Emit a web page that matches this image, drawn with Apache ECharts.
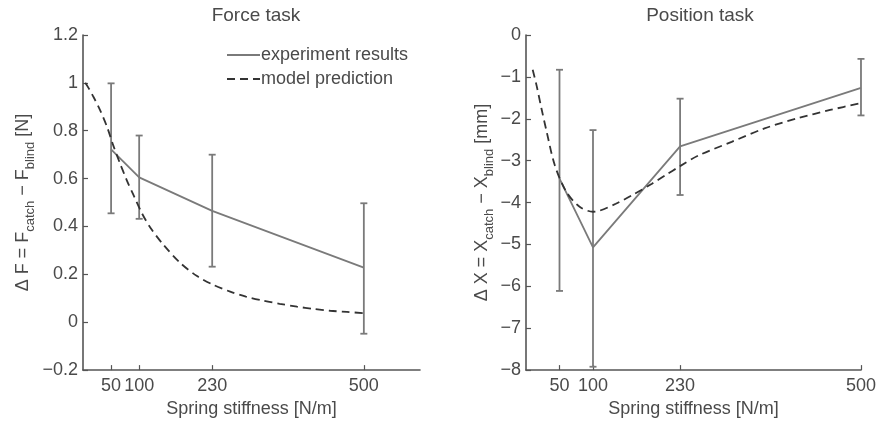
<!DOCTYPE html>
<html>
<head>
<meta charset="utf-8">
<script src="https://cdn.jsdelivr.net/npm/echarts@6/dist/echarts.min.js"></script>
<style>
html,body{margin:0;padding:0;background:#fff;}
#chart{width:879px;height:423px;}
</style>
</head>
<body>
<div id="chart"></div>
<script>
// ---- Data ----
const stiffnessTicks = [50, 100, 230, 500];

// Force task
const forceK = [50, 100, 230, 500];
const forceMean = [0.722, 0.605, 0.465, 0.228];
const forceUpper = [0.998, 0.78, 0.70, 0.497];
const forceLower = [0.455, 0.432, 0.232, -0.048];
const forceModelK = [4, 10, 19, 31, 43, 54, 66, 78, 90, 105, 120, 143, 173, 203, 232, 262, 290, 321, 350, 381, 410, 440, 470, 500];
const forceModelV = [1.0, 0.978, 0.94, 0.883, 0.815, 0.738, 0.663, 0.593, 0.531, 0.455, 0.395, 0.324, 0.248, 0.193, 0.156, 0.128, 0.107, 0.09, 0.077, 0.065, 0.056, 0.048, 0.043, 0.038];

// Position task
const posK = [50, 100, 230, 500];
const posMean = [-3.43, -5.07, -2.66, -1.26];
const posUpper = [-0.83, -2.27, -1.52, -0.57];
const posLower = [-6.11, -7.92, -3.82, -1.92];
const posModelK = [10, 16, 23, 31, 43, 60, 80, 100, 109, 134, 159, 188, 208, 230, 257, 307, 356, 405, 454, 499];
const posModelV = [-0.83, -1.22, -1.75, -2.32, -3.11, -3.74, -4.10, -4.22, -4.20, -4.03, -3.82, -3.55, -3.35, -3.13, -2.88, -2.55, -2.23, -1.99, -1.79, -1.63];

// ---- Styling ----
const FONT = 'Liberation Sans, Arial, sans-serif';
const TXT = '#4a4a4a';
const AXIS = '#555555';
const EXP = '#7a7a7a';
const MODEL = '#333333';
const FS = 18;

const zip = (a, b) => a.map((v, i) => [v, b[i]]);
const errData = (k, lo, hi) => k.map((v, i) => [v, lo[i], hi[i]]);
const fmt = v => String(+v.toFixed(1)).replace('-', '\u2212');

function errorBarSeries(idx, data) {
  return {
    type: 'custom', xAxisIndex: idx, yAxisIndex: idx, data: data, z: 3,
    renderItem: function (params, api) {
      const lo = api.coord([api.value(0), api.value(1)]);
      const hi = api.coord([api.value(0), api.value(2)]);
      const w = 3.5;
      const st = { stroke: EXP, lineWidth: 1.8 };
      return {
        type: 'group', children: [
          { type: 'line', shape: { x1: lo[0], y1: lo[1], x2: hi[0], y2: hi[1] }, style: st },
          { type: 'line', shape: { x1: lo[0] - w, y1: lo[1], x2: lo[0] + w, y2: lo[1] }, style: st },
          { type: 'line', shape: { x1: hi[0] - w, y1: hi[1], x2: hi[0] + w, y2: hi[1] }, style: st }
        ]
      };
    }
  };
}

function yName(letter, unit) {
  return '{m|\u0394 ' + letter + ' = ' + letter + '}{s|catch}{m| \u2212 ' + letter + '}{s|blind}{m| [' + unit + ']}';
}
const nameRich = {
  m: { fontSize: FS, fontFamily: FONT, color: TXT, lineHeight: 28, verticalAlign: 'middle' },
  s: { fontSize: 13, fontFamily: FONT, color: TXT, lineHeight: 15, verticalAlign: 'bottom' }
};

function xAxisCfg(idx, max) {
  return {
    type: 'value', gridIndex: idx, min: 0, max: max,
    axisLine: { show: true, onZero: false, lineStyle: { color: AXIS, width: 1.6 } },
    axisTick: { show: true, inside: true, length: 5, customValues: stiffnessTicks, lineStyle: { color: AXIS, width: 1.2 } },
    axisLabel: { customValues: stiffnessTicks, color: TXT, fontSize: FS, fontFamily: FONT, margin: 7, hideOverlap: false },
    splitLine: { show: false },
    name: 'Spring stiffness [N/m]', nameLocation: 'middle', nameGap: 21,
    nameTextStyle: { color: TXT, fontSize: FS, fontFamily: FONT }
  };
}
function yAxisCfg(idx, min, max, interval, name, gap) {
  return {
    type: 'value', gridIndex: idx, min: min, max: max, interval: interval,
    axisLine: { show: true, onZero: false, lineStyle: { color: AXIS, width: 1.6 } },
    axisTick: { show: true, inside: true, length: 5, lineStyle: { color: AXIS, width: 1.2 } },
    axisLabel: { color: TXT, fontSize: FS, fontFamily: FONT, margin: 5, formatter: fmt },
    splitLine: { show: false },
    name: name, nameLocation: 'middle', nameGap: gap,
    nameTextStyle: { rich: nameRich }
  };
}

const chart = echarts.init(document.getElementById('chart'), null, { renderer: 'canvas' });
chart.setOption({
  backgroundColor: '#ffffff',
  animation: false,
  title: [
    { text: 'Force task', left: 251, top: 1, textAlign: 'center', textStyle: { color: TXT, fontSize: 19, fontWeight: 'normal', fontFamily: FONT } },
    { text: 'Position task', left: 695, top: 1, textAlign: 'center', textStyle: { color: TXT, fontSize: 19, fontWeight: 'normal', fontFamily: FONT } }
  ],
  legend: {
    orient: 'vertical', left: 221, top: 41, itemWidth: 33, itemHeight: 14, itemGap: 6,
    data: ['experiment results', 'model prediction'],
    itemStyle: { opacity: 0 },
    textStyle: { color: TXT, fontSize: FS, fontFamily: FONT, padding: [0, 0, 0, -4] }
  },
  grid: [
    { left: 83, right: 459, top: 35, bottom: 47 },
    { left: 526, right: 15, top: 35, bottom: 47 }
  ],
  xAxis: [xAxisCfg(0, 600), xAxisCfg(1, 500)],
  yAxis: [
    yAxisCfg(0, -0.2, 1.2, 0.2, yName('F', 'N'), 46),
    yAxisCfg(1, -8, 0, 1, yName('X', 'mm'), 30)
  ],
  series: [
    errorBarSeries(0, errData(forceK, forceLower, forceUpper)),
    { name: 'experiment results', type: 'line', xAxisIndex: 0, yAxisIndex: 0, data: zip(forceK, forceMean), symbol: 'none', lineStyle: { color: EXP, width: 1.8 }, itemStyle: { color: EXP }, z: 4 },
    { name: 'model prediction', type: 'line', xAxisIndex: 0, yAxisIndex: 0, data: zip(forceModelK, forceModelV), symbol: 'none', smooth: 0.3, lineStyle: { color: MODEL, width: 1.8, type: [8, 5] }, itemStyle: { color: MODEL }, z: 5 },
    errorBarSeries(1, errData(posK, posLower, posUpper)),
    { name: 'experiment results', type: 'line', xAxisIndex: 1, yAxisIndex: 1, data: zip(posK, posMean), symbol: 'none', lineStyle: { color: EXP, width: 1.8 }, itemStyle: { color: EXP }, z: 4 },
    { name: 'model prediction', type: 'line', xAxisIndex: 1, yAxisIndex: 1, data: zip(posModelK, posModelV), symbol: 'none', smooth: 0.3, lineStyle: { color: MODEL, width: 1.8, type: [8, 5] }, itemStyle: { color: MODEL }, z: 5 }
  ]
});
</script>
</body>
</html>
